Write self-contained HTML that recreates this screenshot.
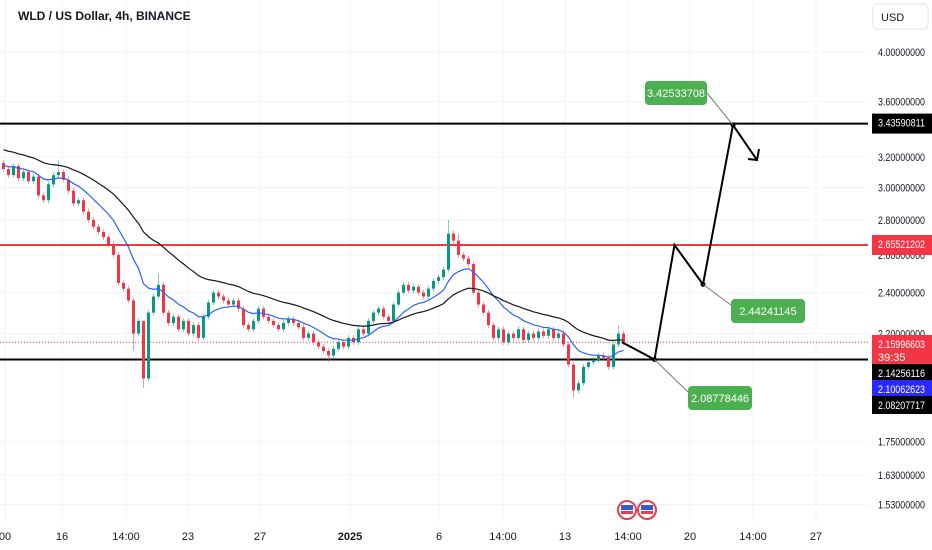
<!DOCTYPE html>
<html><head><meta charset="utf-8"><style>
html,body{margin:0;padding:0;background:#fff;width:932px;height:550px;overflow:hidden;font-family:"Liberation Sans",sans-serif}
svg{display:block}
</style></head><body>
<svg id="chart" width="932" height="550" xmlns="http://www.w3.org/2000/svg">
<g id="grid"></g>
<g id="levels"></g>
<g id="candles"></g>
<g id="mas"></g>
<g id="drawing"></g>
<g id="axis"></g>
<g id="xaxis"></g>
<text x="18" y="20" font-size="12" font-weight="bold" fill="#131722">WLD / US Dollar, 4h, BINANCE</text>
<rect x="873" y="4" width="55" height="25" rx="4" fill="#fff" stroke="#e0e3eb"/>
<text x="881" y="21" font-size="11" fill="#131722">USD</text>
<g>
<circle cx="627" cy="510" r="9" fill="#fff" stroke="#e04050" stroke-width="2"/><rect x="621" y="505" width="12" height="5" fill="#3a5bc7"/><rect x="621" y="511" width="12" height="3" fill="#e04050"/>
<circle cx="647" cy="510" r="9" fill="#fff" stroke="#e04050" stroke-width="2"/><rect x="641" y="505" width="12" height="5" fill="#3a5bc7"/><rect x="641" y="511" width="12" height="3" fill="#e04050"/>
</g>
</svg>
<script>
const closes=[3.12,3.08,3.14,3.06,3.10,3.04,3.07,2.95,2.92,3.02,3.08,3.10,3.05,2.98,2.90,2.92,2.85,2.80,2.76,2.73,2.70,2.66,2.60,2.45,2.42,2.36,2.20,2.26,2.00,2.30,2.38,2.44,2.30,2.25,2.28,2.22,2.26,2.20,2.24,2.18,2.28,2.35,2.40,2.38,2.36,2.34,2.36,2.32,2.24,2.22,2.26,2.32,2.28,2.26,2.24,2.22,2.25,2.27,2.25,2.23,2.18,2.20,2.16,2.14,2.12,2.10,2.13,2.16,2.14,2.18,2.16,2.22,2.20,2.26,2.30,2.32,2.28,2.26,2.34,2.40,2.44,2.41,2.43,2.40,2.38,2.42,2.46,2.48,2.52,2.72,2.68,2.60,2.58,2.55,2.40,2.34,2.30,2.24,2.18,2.22,2.16,2.20,2.18,2.22,2.17,2.20,2.18,2.21,2.19,2.22,2.18,2.20,2.15,2.06,1.95,1.98,2.05,2.07,2.08,2.10,2.09,2.05,2.15,2.20,2.16];
const firstOpen=3.16;
const wickHighs={11:3.18,28:2.22,89:2.80,91:2.72,31:2.50,123:2.24};
const wickLows={28:1.96,114:1.92,26:2.12,65:2.07};
const priceTicks=[4.0,3.6,3.2,3.0,2.8,2.6,2.4,2.2,1.75,1.63,1.53];
const tickLabels=["4.00000000","3.60000000","3.20000000","3.00000000","2.80000000","2.60000000","2.40000000","2.20000000","1.75000000","1.63000000","1.53000000"];
const timeLabels=["00","16","14:00","23","27","2025","6","14:00","13","14:00","20","14:00","27"];
const timeLabelX=[5,62,126,188,260,350,439,503,565,628,690,753,816];
const levelPrices=[3.43590811,2.65521202,2.08207717];
const projPrices=[2.1600,2.08778446,2.6552,2.44241145,3.42533708,3.18];
const projBars=[124,130.5,134.5,140.2,146.2,151];
const fastSeed=3.15, slowSeed=3.26;

const NS="http://www.w3.org/2000/svg";
const PW=868;
function y(p){return 52+(Math.log(4)-Math.log(p))*471;}
function x(i){return 2+i*5;}
function mk(tag,attrs,parent){const e=document.createElementNS(NS,tag);for(const k in attrs)e.setAttribute(k,attrs[k]);parent.appendChild(e);return e;}
const grid=document.getElementById('grid');
priceTicks.forEach((p,i)=>{const l=mk('line',{x1:0,x2:PW,y1:y(p),y2:y(p),stroke:'#f0f3fa'},grid);

});
timeLabelX.forEach(v=>{const l=mk('line',{x1:v,x2:v,y1:0,y2:522,stroke:'#f0f3fa'},grid);

});
const lv=document.getElementById('levels');
const lcol=['#000','#f23645','#000'];
levelPrices.forEach((p,i)=>{const l=mk('line',{x1:0,x2:PW,y1:y(p),y2:y(p),stroke:lcol[i],'stroke-width':2},lv);

});
const cp=mk('line',{x1:0,x2:PW,y1:y(2.15996603),y2:y(2.15996603),stroke:'#f23645','stroke-width':1,'stroke-dasharray':'1,2'},lv);


const cg=document.getElementById('candles');
closes.forEach((c,i)=>{const o=i?closes[i-1]:firstOpen;const up=c>=o;
const hi=wickHighs[i]!==undefined?wickHighs[i]:Math.max(o,c)*1.006;
const lo=wickLows[i]!==undefined?wickLows[i]:Math.min(o,c)*0.994;
const col=up?'#089981':'#f23645';const g=mk('g',{},cg);


mk('line',{x1:x(i)+1.5,x2:x(i)+1.5,y1:y(hi),y2:y(lo),stroke:col,'stroke-opacity':0.5},g);
const t=Math.min(y(o),y(c));mk('rect',{x:x(i),y:t,width:3,height:Math.max(1,Math.abs(y(o)-y(c))),fill:col},g);});
const mg=document.getElementById('mas');
function ema(seed,n){let e=seed;const k=2/(n+1);return closes.map(c=>e=e+(c-e)*k);}
[[ema(fastSeed,12),'#2962ff','fast-ma-line'],[ema(slowSeed,30),'#131722','slow-ma-line']].forEach(([a,col,nm])=>{
const p=mk('path',{d:a.map((v,i)=>(i?'L':'M')+(x(i)+1.5)+' '+y(v)).join(''),fill:'none',stroke:col,'stroke-width':1.2},mg);

});
const dg=document.getElementById('drawing');
const pts=projPrices.map((p,i)=>[x(projBars[i]),y(p)]);
pts[1][1]=y(levelPrices[2]);
const pth=mk('path',{d:pts.map((q,i)=>(i?'L':'M')+q[0]+' '+q[1]).join(''),fill:'none',stroke:'#000','stroke-width':2},dg);


const e=pts[5];const ah=mk('path',{d:`M${e[0]-9} ${e[1]-1} L${e[0]} ${e[1]} L${e[0]+2} ${e[1]-11}`,fill:'none',stroke:'#000','stroke-width':2},dg);


const boxes=[[1,688,386,64],[3,731,299,74],[4,645,81,62]];
boxes.forEach(([pi,bx,by,bw])=>{const q=pts[pi];
mk('circle',{cx:q[0],cy:q[1],r:2.5,fill:'#000'},dg);
mk('line',{x1:q[0],y1:q[1],x2:pi==4?bx+bw:bx,y2:pi==4?by+12:by+6,stroke:'#777','stroke-width':1},dg);
const r=mk('rect',{x:bx,y:by,width:bw,height:24,rx:4,fill:'#4caf50'},dg);


const t=mk('text',{x:bx+bw/2,y:by+16,'font-size':11,fill:'#fff','text-anchor':'middle'},dg);t.textContent=projPrices[pi].toFixed(8);

});
const ax=document.getElementById('axis');
priceTicks.forEach((p,i)=>{const t=mk('text',{x:878,y:y(p)+4,'font-size':11,fill:'#131722',textLength:47,lengthAdjust:'spacingAndGlyphs'},ax);t.textContent=tickLabels[i];

});
const tags=[['#000','3.43590811',y(3.43590811)-10,20],['#f23645','2.65521202',y(2.65521202)-10,20],['#f23645','2.15996603',335,30],['#000','2.14256116',364,17],['#2a2aff','2.10062623',380,17],['#000','2.08207717',396,18]];
tags.forEach(([col,txt,ty,h])=>{const g=mk('g',{},ax);


mk('rect',{x:872,y:ty,width:60,height:h,fill:col},g);
const t=mk('text',{x:878,y:ty+13,'font-size':11,fill:'#fff',textLength:47,lengthAdjust:'spacingAndGlyphs'},g);t.textContent=txt;
if(h==30){const t2=mk('text',{x:878,y:ty+26,'font-size':11,fill:'#fff'},g);t2.textContent='39:35';}});
const xa=document.getElementById('xaxis');
timeLabels.forEach((s,i)=>{const t=mk('text',{x:timeLabelX[i],y:540,'font-size':11,fill:'#131722','text-anchor':'middle','font-weight':s=='2025'?'bold':'normal'},xa);t.textContent=s;

});
</script>
</body></html>
